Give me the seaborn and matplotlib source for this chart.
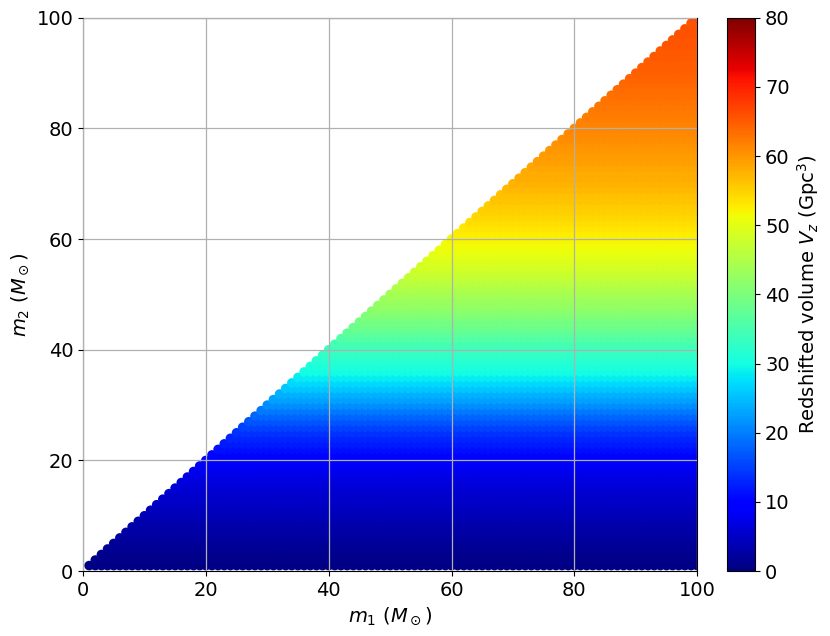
import numpy as np
import pandas as pd
import matplotlib
matplotlib.use('Agg')
import matplotlib.pyplot as plt
import seaborn as sns

# mass grid (solar masses), lower triangle m2 <= m1
masses = np.arange(1, 101)

vz_by_m2 = [
    0.6, 0.9, 1.2, 1.5, 1.8, 2.2, 2.6, 3.0, 3.4, 3.9,
    4.3, 4.7, 5.1, 5.6, 6.0, 6.5, 7.0, 7.6, 8.4, 9.5,
    10.4, 11.2, 12.0, 12.9, 14.0, 15.3, 16.7, 18.1, 19.6, 21.0,
    22.5, 24.0, 25.5, 27.0, 28.5, 29.7, 30.8, 31.8, 32.6, 33.4,
    34.6, 35.8, 37.0, 38.2, 39.3, 40.3, 41.3, 42.2, 43.1, 44.0,
    44.9, 45.8, 46.7, 47.6, 48.5, 49.3, 50.1, 50.8, 51.5, 52.1,
    52.7, 53.3, 53.9, 54.5, 55.0, 55.5, 56.0, 56.5, 57.0, 57.5,
    57.9, 58.3, 58.7, 59.1, 59.5, 59.9, 60.3, 60.7, 61.1, 61.5,
    61.8, 62.1, 62.4, 62.7, 63.0, 63.3, 63.6, 63.9, 64.2, 64.5,
    64.7, 64.9, 65.1, 65.3, 65.5, 65.6, 65.7, 65.8, 65.9, 66.0,
]

cbar_ticks = [0, 10, 20, 30, 40, 50, 60, 70, 80]
axis_ticks = [0, 20, 40, 60, 80, 100]

rows = []
for m1 in masses:
    for m2 in masses:
        if m2 <= m1:
            rows.append((m1, m2, vz_by_m2[m2 - 1]))
df = pd.DataFrame(rows, columns=['m1', 'm2', 'vz'])

jet = matplotlib.colormaps['jet']

fig = plt.figure(figsize=(8.3, 6.36), dpi=100)
ax = fig.add_axes([0.1, 0.102, 0.74, 0.87])

sns.scatterplot(data=df, x='m1', y='m2', hue='vz', palette=jet,
                hue_norm=(0, 80), s=48, linewidth=0, marker='o',
                legend=False, ax=ax)

ax.set_xlim(0, 100)
ax.set_ylim(0, 100)
ax.set_xticks(axis_ticks)
ax.set_yticks(axis_ticks)
ax.tick_params(labelsize=14)
ax.grid(True, color='#b0b0b0', linewidth=0.9)
ax.set_axisbelow(False)
ax.set_xlabel(r'$m_1$ ($M_\odot$)', fontsize=14)
ax.set_ylabel(r'$m_2$ ($M_\odot$)', fontsize=14)

# colorbar
cax = fig.add_axes([0.876, 0.102, 0.034, 0.87])
sm = plt.cm.ScalarMappable(cmap=jet, norm=plt.Normalize(0, 80))
cbar = fig.colorbar(sm, cax=cax)
cbar.set_ticks(cbar_ticks)
cbar.ax.tick_params(labelsize=14)
cbar.set_label(r'Redshifted volume $V_z$ (Gpc$^3$)', fontsize=14)

fig.savefig('out.png', dpi=100)
